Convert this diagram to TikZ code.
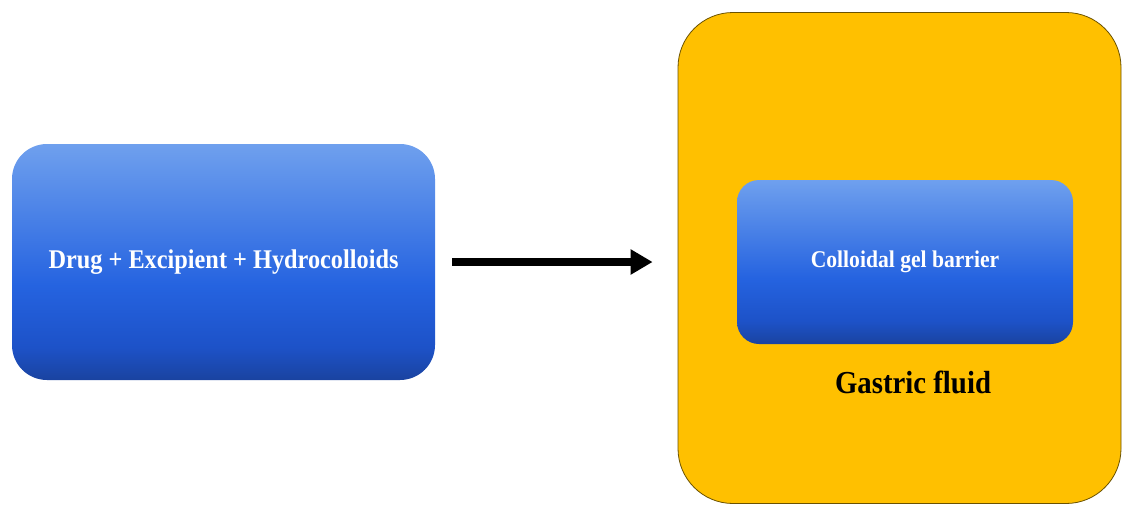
\documentclass[tikz,border=0pt]{standalone}
\usepackage{fontspec}
\setmainfont{Liberation Serif}[FakeStretch=0.9]
\usetikzlibrary{arrows.meta}
\definecolor{gbot}{HTML}{1A43A0}
\definecolor{gmid}{HTML}{1D52C8}
\definecolor{gmain}{HTML}{2563E0}
\definecolor{gtop}{HTML}{6FA0EE}
\definecolor{fluidyellow}{HTML}{FFC000}
\definecolor{fluidedge}{HTML}{6B5200}
\pgfdeclareverticalshading{bluegrad}{100bp}{color(0bp)=(gbot); color(25bp)=(gbot); color(32bp)=(gmid); color(45bp)=(gmain); color(75bp)=(gtop); color(100bp)=(gtop)}
\tikzset{
  bluebox/.style={rectangle, shading=bluegrad, draw=none, text=white, font=\bfseries, inner sep=0pt},
  fluidbox/.style={rectangle, rounded corners=55pt, fill=fluidyellow, draw=fluidedge, line width=0.8pt},
  flowarrow/.style={line width=8pt, -{Triangle[length=22pt,width=24pt]}}
}
\begin{document}
\begin{tikzpicture}[x=1pt,y=-1pt]
\useasboundingbox (0,0) rectangle (1123,506);
\node[bluebox, rounded corners=35pt, minimum width=423pt, minimum height=236pt, font=\bfseries\fontsize{27}{30}\selectfont] (drug) at (223.5,262) {Drug + Excipient + Hydrocolloids};
\node[fluidbox, minimum width=443pt, minimum height=491pt] (fluid) at (899.5,258) {};
\node[bluebox, rounded corners=22pt, minimum width=336pt, minimum height=164pt, font=\bfseries\fontsize{24}{27}\selectfont] (gel) at (905,262) {Colloidal gel barrier};
\node[font=\bfseries\fontsize{32}{35}\selectfont, text=black] (gastric) at (913,382) {Gastric fluid};
\draw[flowarrow, shorten <=17pt, shorten >=25pt] (drug.east) -- (fluid.west |- drug.east);
\end{tikzpicture}
\end{document}
